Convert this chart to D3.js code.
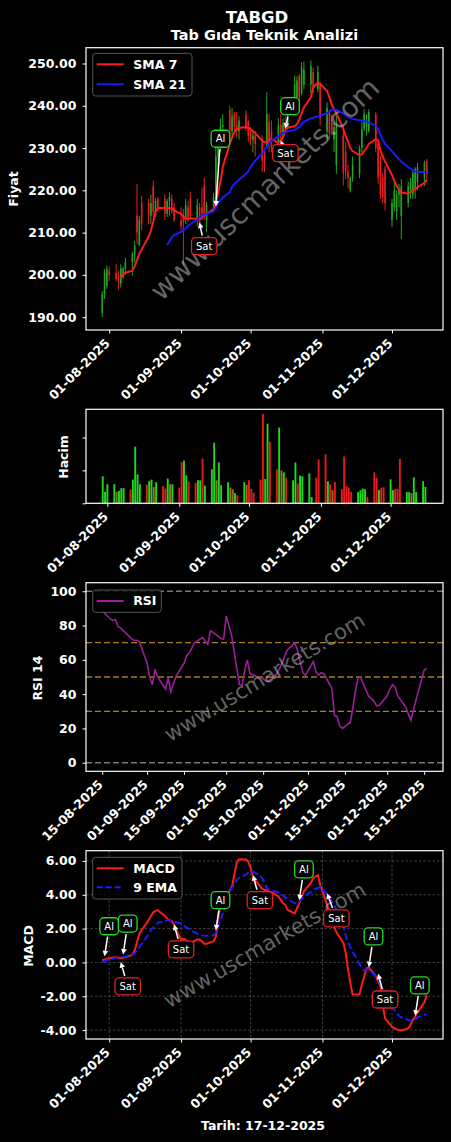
<!DOCTYPE html>
<html>
<head>
<meta charset="utf-8">
<script src="https://cdn.jsdelivr.net/npm/d3@7"></script>
<style>
  body { margin: 0; background: #000; }
  svg { display: block; }
</style>
</head>
<body>
<div id="chart"></div>
<script>
// trading days shown on the chart
var dates = [
  "2025-07-29","2025-07-30","2025-07-31",
  "2025-08-01","2025-08-04","2025-08-05","2025-08-06","2025-08-07","2025-08-08","2025-08-11","2025-08-12","2025-08-13","2025-08-14",
  "2025-08-15","2025-08-18","2025-08-19","2025-08-20","2025-08-21","2025-08-22","2025-08-25","2025-08-26","2025-08-27","2025-08-28","2025-08-29",
  "2025-09-01","2025-09-02","2025-09-03","2025-09-04","2025-09-05","2025-09-08","2025-09-09","2025-09-10","2025-09-11","2025-09-12","2025-09-15",
  "2025-09-16","2025-09-17","2025-09-18","2025-09-19","2025-09-22","2025-09-23","2025-09-24","2025-09-25","2025-09-26","2025-09-29","2025-09-30",
  "2025-10-01","2025-10-02","2025-10-03","2025-10-06","2025-10-07","2025-10-08","2025-10-09","2025-10-10","2025-10-13","2025-10-14","2025-10-15",
  "2025-10-16","2025-10-17","2025-10-20","2025-10-21","2025-10-22","2025-10-23","2025-10-24","2025-10-27","2025-10-28","2025-10-30","2025-10-31",
  "2025-11-03","2025-11-04","2025-11-05","2025-11-06","2025-11-07","2025-11-10","2025-11-11","2025-11-12","2025-11-13","2025-11-14","2025-11-17",
  "2025-11-18","2025-11-19","2025-11-20","2025-11-21","2025-11-24","2025-11-25","2025-11-26","2025-11-27","2025-11-28",
  "2025-12-01","2025-12-02","2025-12-03","2025-12-04","2025-12-05","2025-12-08","2025-12-09","2025-12-10","2025-12-11","2025-12-12","2025-12-15","2025-12-16"
];

var openP = [191,195.5,197.5,201,200.5,199,198,199.5,201.5,203,
  205,214,207,217,217,214,221,214,218,218,
  214.5,217.5,218,216,213,214,213,216,218,213,
  216,216,221,213,216.5,218,228,231,235,239,
  234,238,235.5,234,238,236.5,234.5,232,233,232,
  229.8,230,236,234,231,235.5,233,236,234.5,238,
  242,247,243,245,245,248,244,245,234,238.5,
  236,232,226,233,229,224.5,220,223,224,230,
  234.5,235,234,238,231,227,223,225,213,216,
  215,219,214,217,220,219,220,222,223,227];
var highP = [196.2,201.4,202.2,202,202.6,201,202.5,202,204,205.5,
  208,221.5,214,218.7,218,219,222.3,218.3,218.5,219,
  218,219.5,219,217,216,215.6,218,217.5,219.7,218,
  217,220.5,222.9,217.2,219.4,234.5,233,237,238,240,
  239.5,238.6,238.5,237.5,239,236.5,235,234,234,233,
  230,243.2,238,236.5,237,238,237,237.5,240.6,247.1,
  247,247.5,250.3,250.5,250.7,249,249.5,245.6,240.8,239,
  238,236,237.7,235.3,231.4,226,223.3,228,230.6,236.1,
  239.2,238,239.2,238.5,231.7,228.2,224,225.8,218,222.7,
  220,221.5,222.7,222,223,225,225.5,226.5,227,227.4];
var lowP = [190,194.3,196.7,198.5,198.5,196.5,197,199,200,199.8,
  203,207.3,206.9,210.6,212,212,213.7,213.7,215,213,
  213.7,214,214.5,212.5,210.5,202.2,212,212.5,213,211.5,
  211,213,213,210.1,215,217.5,225,229,232,233,
  233,234,232.5,232,234,231.4,230.6,229,228,224.3,
  224.3,229.8,229,229,230,232,232.5,233.5,234.5,237.7,
  241,240.5,242.5,244,243,243,243.2,235.3,232,232.1,
  233,229,223.9,221.1,222.7,220.5,219.5,222,222.9,229,
  234,233,233.7,229,221.5,218,217,215.2,211.3,215,
  213,216,208.5,216,218,218,218,220,221,222];
var closeP = [195.5,200.5,201.5,200,199,198,201.5,201.5,203,205,
  207,210,213,212,214,217,215,217.5,215.5,214.5,
  217.5,218.5,215,213,211.5,212.5,216.5,213.5,214,216.5,
  212,214.5,214,216.5,218.5,228,231,235,235.5,234,
  237.5,235,234,236.5,235,233,232,233,231,227,
  226.5,238,231,230,235.5,233,236,234,239.5,245,
  246,242,249,248.5,249.5,244.5,248,237,239.5,233.5,
  234,235,235,224,224.5,223,223,226,230,234.5,
  238,236.5,238.5,230,223,219,218.5,217,217,220,
  219,220.5,221,221,222,224,225,225.5,226.5,224];

var sma7 = [null,null,null,null,null,null,199.2,200.2,200.5,201,
  202,203.5,205,206,209,210.5,212.5,215,215.8,215.8,
  215.8,215.8,215.7,215.3,214.4,213.8,213.2,213.3,213.4,213.2,
  213.2,213.5,214.2,214.5,215.5,217,219.5,222,225.5,231,
  232.5,233.8,234.5,234.8,234.9,234.8,234.5,234,233.5,231.8,
  231.3,231.6,231.9,232.1,231.2,231.8,232.6,234.2,234.8,235.2,
  235.6,236.8,238.2,239.6,242,244.3,245.5,245.2,243.5,242,
  240.3,239.2,238.3,234.5,232.9,231.5,230,229.3,228.3,228.5,
  229.3,230,231,232.1,231.8,229.5,228,226.8,223.6,222.3,
  221,220.2,219.5,219.2,219.6,220,220.3,220.7,221.8,222.5];
var sma21 = [null,null,null,null,null,null,null,null,null,null,
  null,null,null,null,null,null,null,null,null,null,
  207.1,208,208.8,209.4,210.2,210.5,211,211.6,212,213.1,
  213.5,214,214.3,214.4,215,215.8,217,217.6,218.3,219.5,
  220.8,221.5,222,222.5,223.9,224.5,225.5,226.3,227,228.8,
  229.6,230.3,231,231.7,232.8,233.3,233.5,233.7,234,234.3,
  234.6,235,235.6,236.2,237,237.2,237.5,237.7,238.2,238.6,
  239,239.2,239,238.2,237.8,237.4,237.1,236.9,236.6,236.5,
  236.4,236.2,236,235.3,234.5,233.2,232,231,229.2,228.6,
  228,227.4,226.8,225.5,225.1,224.8,224.5,224.4,224.3,224.3];

// volume in shares and bar colour code (G up, R down, N flat)
var volume = [null,820000,350000,580000,580000,350000,380000,460000,460000,420000,
  720000,1720000,880000,580000,570000,680000,720000,500000,640000,520000,
  450000,750000,580000,580000,480000,1250000,1300000,850000,660000,620000,
  700000,700000,1360000,540000,1030000,1840000,700000,1240000,550000,640000,
  480000,430000,310000,240000,640000,560000,700000,440000,320000,720000,
  2720000,740000,2420000,1870000,1030000,2300000,1000000,940000,780000,700000,
  1240000,600000,840000,820000,910000,190000,780000,1330000,1490000,670000,
  580000,400000,640000,430000,1420000,520000,480000,350000,340000,400000,
  450000,430000,200000,940000,770000,400000,470000,490000,730000,400000,
  440000,440000,1350000,340000,340000,310000,790000,340000,670000,500000];
var volDir = ["G","G","G","G","G","N","G","G","G","R",
  "G","G","G","G","R","G","G","N","G","R",
  "R","G","N","G","R","R","G","G","R","R",
  "G","G","R","G","G","G","N","G","G","G",
  "N","N","G","R","G","N","R","R","R","R",
  "R","G","G","R","R","G","N","G","R","G",
  "G","R","G","G","G","G","R","R","R","G",
  "R","N","R","R","R","R","R","R","G","G",
  "G","G","R","R","R","G","R","R","G","G",
  "R","R","R","G","G","N","G","G","G","G"];

var rsi14 = [null,null,null,null,null,null,null,null,null,null,
  null,null,null,88.5,84,83,83.5,79.5,78.5,74,
  72.5,71.4,71.4,70.8,58,50,45.5,54.5,50,43,
  49.3,41.5,46,50.5,58,62.5,64,67,70,73,
  71,69,77,76,72.5,72,85.5,80,74.5,45.5,
  45,54,60,52,50,49.5,49,47.5,47.5,51.5,
  54.5,57.5,61.5,65.5,70,65.5,52.5,51,59,53,
  51,52.5,52,43.5,27.5,27,21.5,20,23.5,32,
  42,50,49.5,38.7,37.5,35.8,33.2,33.5,39,43,
  45.5,44,39,32.5,28.5,24.7,31,37,54,55];

var macd = [0.12,0.17,0.22,0.25,0.3,0.28,0.27,0.28,0.3,0.45,
  0.7,1.2,1.7,1.9,2.5,2.75,2.95,3.05,3.08,2.75,
  2.6,2.5,2.45,2.2,1.35,1.4,1.35,1.2,1.15,1.35,
  1.35,1.25,1.1,1.1,1.25,1.5,2.6,3.35,3.6,4.25,
  4.5,5.2,5.9,6.1,6.08,5.95,5.6,5.1,4.85,4.35,
  4.3,4.27,4.2,4.15,3.9,3.7,3.5,3.4,3.1,2.9,
  3.2,3.5,3.9,4.2,4.7,5.0,5.15,4.6,3.4,3.0,
  2.6,2.1,1.8,1.15,0.6,-0.4,-1.2,-1.9,-1.9,-1.3,
  -0.85,-0.35,-0.3,-0.8,-1.1,-1.4,-2.5,-3.3,-3.8,-3.9,
  -3.95,-4.0,-4.02,-3.9,-3.7,-3.4,-3.2,-2.95,-2.35,-1.9];
var macdSignal = [0.02,0.08,0.13,0.18,0.27,0.3,0.32,0.33,0.35,0.45,
  0.55,0.7,0.9,1.1,1.65,1.9,2.05,2.2,2.35,2.45,
  2.5,2.5,2.45,2.4,2.3,2.2,2.1,2.0,1.9,1.7,
  1.65,1.6,1.58,1.57,1.6,1.75,2.2,2.5,2.9,4.2,
  4.4,4.65,4.85,5.0,5.2,5.3,5.36,5.36,5.3,5.0,
  4.7,4.4,4.3,4.25,4.15,4.05,3.95,3.85,3.75,3.5,
  3.5,3.6,3.75,3.88,4.15,4.3,4.4,4.45,4.05,3.85,
  3.6,3.4,3.15,2.2,1.6,1.2,0.9,0.65,-0.1,-0.3,
  -0.47,-0.42,-0.4,-0.85,-1.0,-1.3,-1.6,-1.85,-2.6,-2.8,
  -3.0,-3.15,-3.25,-3.4,-3.44,-3.44,-3.35,-3.25,-3.1,-3.05];

// axis ticks
var priceTicks = [190, 200, 210, 220, 230, 240, 250];
var volTicks = [0, 1000000, 2000000];
var monthTicks = ["2025-08-01","2025-09-01","2025-10-01","2025-11-01","2025-12-01"];
var rsiDateTicks = ["2025-08-15","2025-09-01","2025-09-15","2025-10-01","2025-10-15","2025-11-01","2025-11-15","2025-12-01","2025-12-15"];
var rsiTicks = [0, 20, 40, 60, 80, 100];
var rsiLevels = [0, 30, 50, 70, 100];
var macdTicks = [-4, -2, 0, 2, 4, 6];

// signals: [label, arrow date, arrow value, text date, text value]
var priceSignals = [
  ["Al",  "2025-09-16", 216.2, "2025-09-18", 232.2],
  ["Sat", "2025-09-09", 212.4, "2025-09-11", 206.8],
  ["Al",  "2025-10-16", 234.6, "2025-10-18", 239.9],
  ["Sat", "2025-10-14", 231.8, "2025-10-16", 228.8]
];
var macdSignals = [
  ["Al",  "2025-07-30", 0.36,  "2025-08-01", 2.14],
  ["Al",  "2025-08-07", 0.47,  "2025-08-09", 2.3],
  ["Sat", "2025-08-06", 0.02,  "2025-08-09", -1.42],
  ["Sat", "2025-08-29", 2.24,  "2025-09-01", 0.77],
  ["Al",  "2025-09-16", 1.9,   "2025-09-18", 3.68],
  ["Sat", "2025-10-02", 5.16,  "2025-10-05", 3.68],
  ["Al",  "2025-10-22", 3.68,  "2025-10-24", 5.5],
  ["Sat", "2025-11-03", 4.08,  "2025-11-07", 2.6],
  ["Al",  "2025-11-21", -0.28, "2025-11-23", 1.54],
  ["Sat", "2025-11-25", -0.67, "2025-11-28", -2.19],
  ["Al",  "2025-12-11", -3.15, "2025-12-13", -1.36]
];

var width = 451, height = 1142;
var left = 86, right = 443;
var pricePanel = {top: 47.7, bottom: 330};
var volPanel = {top: 409.3, bottom: 503.3};
var rsiPanel = {top: 582.7, bottom: 771.3};
var macdPanel = {top: 850.7, bottom: 1039};

var parseDate = d3.timeParse("%Y-%m-%d");
var fmtDate = d3.timeFormat("%d-%m-%Y");
var font = "DejaVu Sans";

var rows = dates.map(function(d, i) {
  return {date: parseDate(d), o: openP[i], h: highP[i], l: lowP[i], c: closeP[i],
    vol: volume[i], dir: volDir[i], s7: sma7[i], s21: sma21[i], rsi: rsi14[i],
    macd: macd[i], sig: macdSignal[i]};
});

// pad an extent like matplotlib's 5% margin
function padTime(ext, f) {
  var span = ext[1] - ext[0];
  return [new Date(+ext[0] - span * f), new Date(+ext[1] + span * f)];
}
function padNum(ext, f) {
  var span = ext[1] - ext[0];
  return [ext[0] - span * f, ext[1] + span * f];
}

var svg = d3.select("#chart")
  .append("svg")
    .attr("width", width)
    .attr("height", height)
    .style("background", "#000");

// scales
var x = d3.scaleTime().domain(padTime(d3.extent(rows, function(d) { return d.date; }), 0.05)).range([left, right]);
var xVol = d3.scaleTime().domain([new Date(2025, 6, 22, 19), new Date(2025, 11, 23, 14)]).range([left, right]);
var rsiRows = rows.filter(function(d) { return d.rsi != null; });
var xRsi = d3.scaleTime().domain(padTime(d3.extent(rsiRows, function(d) { return d.date; }), 0.05)).range([left, right]);

var yPrice = d3.scaleLinear()
  .domain(padNum([d3.min(lowP), d3.max(highP)], 0.05))
  .range([pricePanel.bottom, pricePanel.top]);
var yVol = d3.scaleLinear()
  .domain([0, d3.max(volume) * 1.05])
  .range([volPanel.bottom, volPanel.top]);
var yRsi = d3.scaleLinear().domain([-5, 105]).range([rsiPanel.bottom, rsiPanel.top]);
var yMacd = d3.scaleLinear()
  .domain(padNum([d3.min(macd.concat(macdSignal)), d3.max(macd.concat(macdSignal))], 0.05))
  .range([macdPanel.bottom, macdPanel.top]);

function styleAxis(g) {
  g.attr("font-family", font).attr("font-size", 12.5).attr("font-weight", "bold");
  g.select(".domain").remove();
  g.selectAll(".tick line").attr("stroke", "#fff").attr("stroke-width", 1);
  g.selectAll(".tick text").attr("fill", "#fff");
}

function xAxis(scale, ticks, panel) {
  var g = svg.append("g")
    .attr("transform", "translate(0," + panel.bottom + ")")
    .call(d3.axisBottom(scale).tickValues(ticks.map(parseDate)).tickFormat(fmtDate).tickSize(3.5));
  styleAxis(g);
  g.selectAll(".tick text")
    .attr("y", null)
    .attr("dy", null)
    .attr("text-anchor", "end")
    .attr("transform", "translate(1,14) rotate(-45)");
}

function yAxis(scale, ticks, fmt) {
  var g = svg.append("g")
    .attr("transform", "translate(" + left + ",0)")
    .call(d3.axisLeft(scale).tickValues(ticks).tickFormat(fmt).tickSize(3.5).tickPadding(6));
  styleAxis(g);
}

function frame(panel) {
  svg.append("rect")
    .attr("x", left).attr("y", panel.top)
    .attr("width", right - left).attr("height", panel.bottom - panel.top)
    .attr("fill", "none").attr("stroke", "#fff").attr("stroke-width", 1.2);
}

function yLabel(txt, x0, y0) {
  svg.append("text")
    .attr("transform", "translate(" + x0 + "," + y0 + ") rotate(-90)")
    .attr("text-anchor", "middle")
    .attr("fill", "#fff")
    .attr("font-family", font).attr("font-size", 12.5).attr("font-weight", "bold")
    .text(txt);
}

function watermark(panel, angle, size) {
  svg.append("text")
    .attr("transform", "translate(" + ((left + right) / 2) + "," + ((panel.top + panel.bottom) / 2) + ") rotate(" + angle + ")")
    .attr("text-anchor", "middle")
    .attr("dy", "0.35em")
    .attr("fill", "#c8c8c8")
    .attr("fill-opacity", 0.5)
    .attr("font-family", font)
    .attr("font-size", size)
    .text("www.uscmarkets.com");
}

function legend(x0, y0, w, h, step, items) {
  var g = svg.append("g");
  g.append("rect")
    .attr("x", x0).attr("y", y0).attr("width", w).attr("height", h).attr("rx", 3)
    .attr("fill", "#000").attr("fill-opacity", 0.8).attr("stroke", "#555");
  items.forEach(function(it, i) {
    var yy = y0 + 11 + i * step;
    g.append("line")
      .attr("x1", x0 + 4).attr("x2", x0 + 31).attr("y1", yy).attr("y2", yy)
      .attr("stroke", it.color).attr("stroke-width", 2)
      .attr("stroke-dasharray", it.dash || null);
    g.append("text")
      .attr("x", x0 + 40.5).attr("y", yy).attr("dy", "0.35em")
      .attr("fill", "#fff")
      .attr("font-family", font).attr("font-size", 12.5).attr("font-weight", "bold")
      .text(it.label);
  });
}

// buy / sell boxes with arrows
function drawSignals(xs, ys, list) {
  var g = svg.append("g");
  list.forEach(function(s) {
    var buy = s[0] == "Al";
    var tx = xs(parseDate(s[1])), ty = ys(s[2]);
    var bx = xs(parseDate(s[3])), by = ys(s[4]);
    var label = g.append("text")
      .attr("x", bx).attr("y", by).attr("dy", "0.35em")
      .attr("text-anchor", "middle")
      .attr("fill", "#fff")
      .attr("font-family", font).attr("font-size", 10)
      .text(s[0]);
    var w = label.node().getComputedTextLength() + 9, h = 17;
    var dx = tx - bx, dy = ty - by;
    var t = Math.min(dx ? Math.abs(w / 2 / dx) : Infinity, dy ? Math.abs(h / 2 / dy) : Infinity);
    var sx = bx + dx * t, sy = by + dy * t;
    var len = Math.hypot(tx - sx, ty - sy);
    var ux = (tx - sx) / len, uy = (ty - sy) / len;
    sx += ux * 2; sy += uy * 2;
    var hl = 5.5, hw = 2.8;
    var baseX = tx - ux * hl, baseY = ty - uy * hl;
    g.insert("line", "text")
      .attr("x1", sx).attr("y1", sy).attr("x2", baseX).attr("y2", baseY)
      .attr("stroke", "#fff").attr("stroke-width", 1.5);
    g.insert("path", "text")
      .attr("d", "M" + tx + "," + ty + "L" + (baseX - uy * hw) + "," + (baseY + ux * hw) +
        "L" + (baseX + uy * hw) + "," + (baseY - ux * hw) + "Z")
      .attr("fill", "#fff");
    g.insert("rect", "text")
      .attr("x", bx - w / 2).attr("y", by - h / 2).attr("width", w).attr("height", h).attr("rx", 4)
      .attr("fill", "#000")
      .attr("stroke", buy ? "#22dd22" : "#e42020").attr("stroke-width", 1.3);
    label.raise();
  });
}

// ---------- titles ----------
svg.append("text")
  .attr("x", 257).attr("y", 22.5)
  .attr("text-anchor", "middle").attr("fill", "#fff")
  .attr("font-family", font).attr("font-size", 16.5).attr("font-weight", "bold")
  .text("TABGD");
svg.append("text")
  .attr("x", 264.5).attr("y", 40)
  .attr("text-anchor", "middle").attr("fill", "#fff")
  .attr("font-family", font).attr("font-size", 14.5).attr("font-weight", "bold")
  .text("Tab Gıda Teknik Analizi");

// ---------- price panel ----------
var upColor = "#22a322", downColor = "#e41e1e";
var candle = svg.append("g")
  .selectAll("g")
  .data(rows)
  .enter()
  .append("g");
candle.append("line")
  .attr("x1", function(d) { return x(d.date); })
  .attr("x2", function(d) { return x(d.date); })
  .attr("y1", function(d) { return yPrice(d.h); })
  .attr("y2", function(d) { return yPrice(d.l); })
  .attr("stroke", function(d) { return d.c >= d.o ? upColor : downColor; })
  .attr("stroke-width", 1);
candle.append("rect")
  .attr("x", function(d) { return x(d.date) - 0.8; })
  .attr("width", 1.6)
  .attr("y", function(d) { return yPrice(Math.max(d.o, d.c)); })
  .attr("height", function(d) { return Math.max(0.8, Math.abs(yPrice(d.o) - yPrice(d.c))); })
  .attr("fill", function(d) { return d.c >= d.o ? upColor : downColor; });

function lineOf(xs, ys, key) {
  return d3.line()
    .defined(function(d) { return d[key] != null; })
    .x(function(d) { return xs(d.date); })
    .y(function(d) { return ys(d[key]); });
}

svg.append("path").datum(rows)
  .attr("d", lineOf(x, yPrice, "s7"))
  .attr("fill", "none").attr("stroke", "#ff1a1a").attr("stroke-width", 2);
svg.append("path").datum(rows)
  .attr("d", lineOf(x, yPrice, "s21"))
  .attr("fill", "none").attr("stroke", "#1a1aff").attr("stroke-width", 2);

watermark(pricePanel, -44, 28);
drawSignals(x, yPrice, priceSignals);
legend(92.7, 53.3, 99.3, 42.7, 20, [{label: "SMA 7", color: "#ff1a1a"}, {label: "SMA 21", color: "#1a1aff"}]);
frame(pricePanel);
yAxis(yPrice, priceTicks, function(d) { return d.toFixed(2); });
xAxis(x, monthTicks, pricePanel);
yLabel("Fiyat", 18, 189);

// ---------- volume panel ----------
var volColor = {G: "#22ee22", R: "#ff1f1f", N: "#a87a22"};
svg.append("g")
  .selectAll("rect")
  .data(rows.filter(function(d) { return d.vol != null; }))
  .enter()
  .append("rect")
    .attr("x", function(d) { return xVol(d.date) - 0.95; })
    .attr("width", 1.9)
    .attr("y", function(d) { return yVol(d.vol); })
    .attr("height", function(d) { return yVol(0) - yVol(d.vol); })
    .attr("fill", function(d) { return volColor[d.dir]; })
    .attr("fill-opacity", 0.9);
frame(volPanel);
yAxis(yVol, volTicks, function() { return ""; });
xAxis(xVol, monthTicks, volPanel);
yLabel("Hacim", 67.5, 457);

// ---------- RSI panel ----------
svg.append("g")
  .selectAll("line")
  .data(rsiLevels)
  .enter()
  .append("line")
    .attr("x1", left).attr("x2", right)
    .attr("y1", function(d) { return yRsi(d); })
    .attr("y2", function(d) { return yRsi(d); })
    .attr("stroke", function(d) { return (d == 0 || d == 100) ? "#8c8c8c" : "#c9902c"; })
    .attr("stroke-opacity", 0.85)
    .attr("stroke-width", 1.3)
    .attr("stroke-dasharray", "6,3");
svg.append("path").datum(rows)
  .attr("d", lineOf(xRsi, yRsi, "rsi"))
  .attr("fill", "none").attr("stroke", "#9a1f9a").attr("stroke-width", 1.6);
watermark(rsiPanel, -31, 21);
legend(92.7, 590, 68.6, 22.3, 20, [{label: "RSI", color: "#9a1f9a"}]);
frame(rsiPanel);
yAxis(yRsi, rsiTicks, function(d) { return d; });
xAxis(xRsi, rsiDateTicks, rsiPanel);
yLabel("RSI 14", 42, 678);

// ---------- MACD panel ----------
var grid = svg.append("g")
  .attr("stroke", "#9a9a9a").attr("stroke-opacity", 0.6)
  .attr("stroke-width", 0.7).attr("stroke-dasharray", "2.5,2");
grid.selectAll("line.h")
  .data(macdTicks)
  .enter()
  .append("line")
    .attr("x1", left).attr("x2", right)
    .attr("y1", function(d) { return yMacd(d); })
    .attr("y2", function(d) { return yMacd(d); });
grid.selectAll("line.v")
  .data(monthTicks)
  .enter()
  .append("line")
    .attr("y1", macdPanel.top).attr("y2", macdPanel.bottom)
    .attr("x1", function(d) { return x(parseDate(d)); })
    .attr("x2", function(d) { return x(parseDate(d)); });

svg.append("path").datum(rows)
  .attr("d", lineOf(x, yMacd, "macd"))
  .attr("fill", "none").attr("stroke", "#ff1a1a").attr("stroke-width", 2);
svg.append("path").datum(rows)
  .attr("d", lineOf(x, yMacd, "sig"))
  .attr("fill", "none").attr("stroke", "#1a1aff").attr("stroke-width", 2)
  .attr("stroke-dasharray", "7,3");
watermark(macdPanel, -30, 21);
drawSignals(x, yMacd, macdSignals);
legend(92.7, 857.3, 89.3, 41.7, 19, [{label: "MACD", color: "#ff1a1a"}, {label: "9 EMA", color: "#1a1aff", dash: "6,3"}]);
frame(macdPanel);
yAxis(yMacd, macdTicks, function(d) { return d.toFixed(2); });
xAxis(x, monthTicks, macdPanel);
yLabel("MACD", 32.5, 946);

svg.append("text")
  .attr("x", 263).attr("y", 1130)
  .attr("text-anchor", "middle").attr("fill", "#fff")
  .attr("font-family", font).attr("font-size", 12.5).attr("font-weight", "bold")
  .text("Tarih: 17-12-2025");
</script>
</body>
</html>
